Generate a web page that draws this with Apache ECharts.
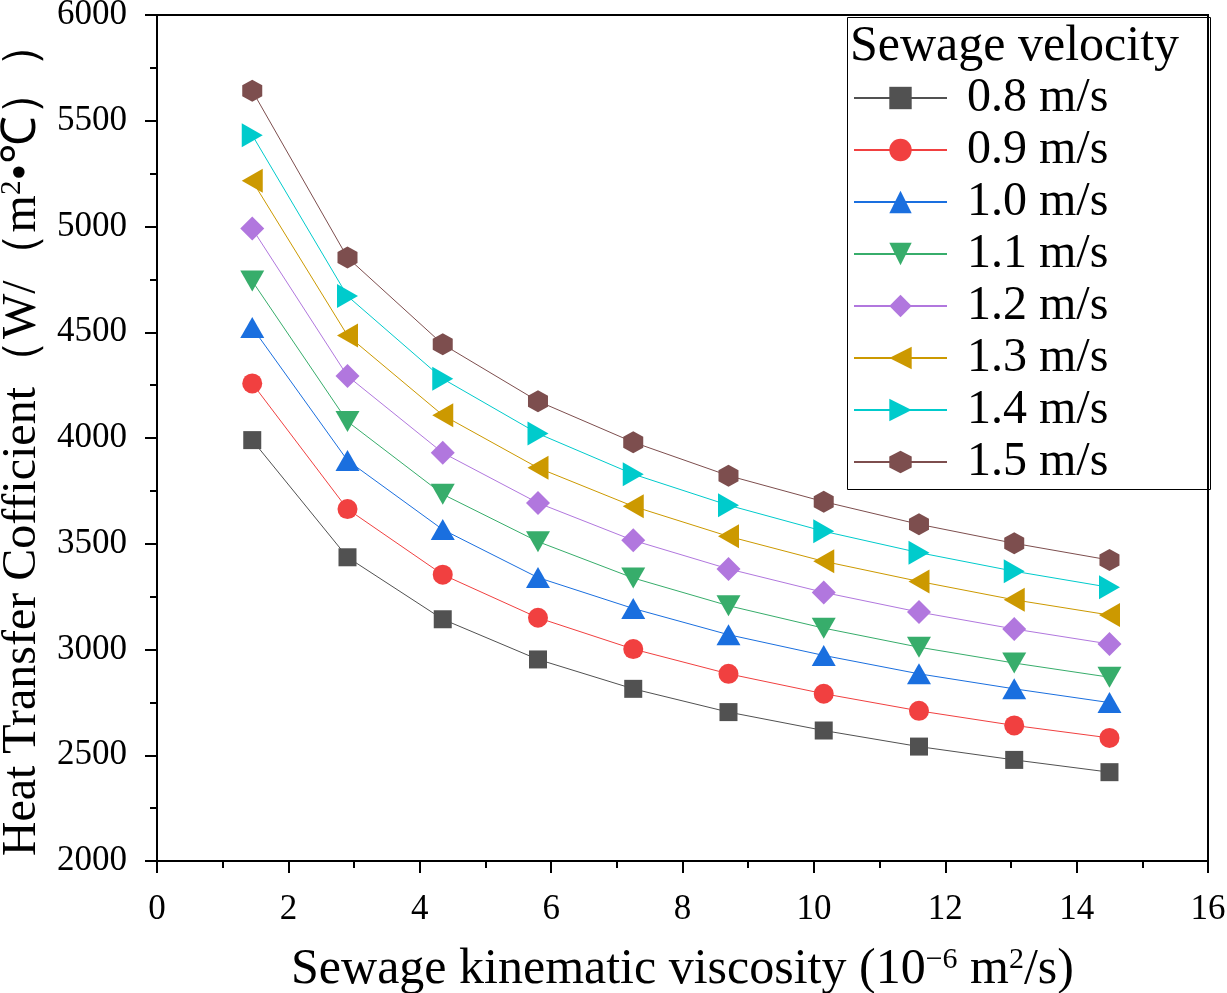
<!DOCTYPE html>
<html>
<head>
<meta charset="utf-8">
<script src="https://cdn.jsdelivr.net/npm/echarts@6/dist/echarts.min.js"></script>
<style>
html,body{margin:0;padding:0;background:#fff;}
#chart{width:1227px;height:993px;}
</style>
</head>
<body>
<div id="chart"></div>
<script>
// ---- data ----
const viscosity = [1.45, 2.9, 4.35, 5.8, 7.25, 8.7, 10.15, 11.6, 13.05, 14.5];
const seriesNames = ['0.8 m/s', '0.9 m/s', '1.0 m/s', '1.1 m/s', '1.2 m/s', '1.3 m/s', '1.4 m/s', '1.5 m/s'];
const v08 = [3990, 3436, 3143, 2953, 2814, 2704, 2617, 2541, 2478, 2420];
const v09 = [4258, 3664, 3354, 3150, 3002, 2885, 2791, 2710, 2641, 2582];
const v10 = [4522, 3894, 3567, 3340, 3194, 3070, 2972, 2885, 2814, 2749];
const v11 = [4742, 4078, 3734, 3510, 3338, 3207, 3101, 3011, 2936, 2869];
const v12 = [4990, 4293, 3930, 3693, 3516, 3381, 3270, 3177, 3097, 3026];
const v13 = [5216, 4485, 4108, 3859, 3677, 3535, 3417, 3322, 3235, 3163];
const v14 = [5432, 4671, 4280, 4021, 3829, 3682, 3559, 3458, 3370, 3294];
const v15 = [5642, 4853, 4443, 4174, 3980, 3822, 3699, 3592, 3502, 3423];
const yTicks = [2000, 2500, 3000, 3500, 4000, 4500, 5000, 5500, 6000];
const xTicks = [0, 2, 4, 6, 8, 10, 12, 14, 16];

const allValues = [v08, v09, v10, v11, v12, v13, v14, v15];
const colors = ['#515151', '#F14040', '#1A6FDF', '#37AD6B', '#B177DE', '#CC9900', '#00CBCC', '#7D4E4E'];
const symbols = [
  'rect',
  'circle',
  'triangle',
  'path://M0,0 L10,0 L5,10 Z',
  'diamond',
  'path://M10,0 L10,10 L0,5 Z',
  'path://M0,0 L0,10 L10,5 Z',
  'path://M50,0 L93.3,25 L93.3,75 L50,100 L6.7,75 L6.7,25 Z'
];
const symbolSizes = [[18,18], 20, [24,21], [24,21], [24,24], [21,24], [21,24], [20,22]];

const FONT = 'Liberation Serif';

const series = allValues.map((vals, i) => ({
  name: seriesNames[i],
  type: 'line',
  data: viscosity.map((x, j) => [x, vals[j]]),
  symbol: symbols[i],
  symbolSize: symbolSizes[i],
  showAllSymbol: true,
  lineStyle: { color: colors[i], width: 1 },
  itemStyle: { color: colors[i] },
  emphasis: { disabled: true },
  animation: false,
  z: 2 + i
}));

const tickRich = { t: { fontFamily: FONT, fontSize: 35, color: '#000' } };

const chart = echarts.init(document.getElementById('chart'), null, { renderer: 'canvas' });
chart.setOption({
  backgroundColor: '#ffffff',
  animation: false,
  textStyle: { fontFamily: FONT },
  grid: {
    left: 157, top: 15, right: 19, bottom: 132,
    containLabel: false,
    outerBoundsMode: 'none',
    show: true, borderColor: '#000', borderWidth: 2, backgroundColor: 'transparent'
  },
  xAxis: {
    type: 'value',
    min: xTicks[0], max: xTicks[xTicks.length - 1], interval: 2,
    name: '{a|Sewage kinematic viscosity (10}{s|−6}{a| m}{s|2}{a|/s)}',
    nameLocation: 'middle',
    nameGap: 84,
    nameTextStyle: {
      rich: {
        a: { fontFamily: FONT, fontSize: 50, color: '#000' },
        s: { fontFamily: FONT, fontSize: 30, color: '#000', verticalAlign: 'top', padding: [0,0,20,0] }
      }
    },
    axisLine: { onZero: false, lineStyle: { color: '#000', width: 2 } },
    axisTick: { show: true, length: 12, lineStyle: { color: '#000', width: 2 } },
    minorTick: { show: true, splitNumber: 2, length: 7, lineStyle: { color: '#000', width: 2 } },
    splitLine: { show: false },
    axisLabel: {
      formatter: function (v) { return '{t|' + v + '}'; },
      rich: tickRich,
      fontFamily: FONT, fontSize: 35, color: '#000', margin: 31
    }
  },
  yAxis: {
    type: 'value',
    min: yTicks[0], max: yTicks[yTicks.length - 1], interval: 500,
    name: '{a|Heat Transfer Cofficient（W/（m}{s|2}{a|•℃））}',
    nameLocation: 'middle',
    nameGap: 104,
    nameRotate: 90,
    nameTextStyle: {
      rich: {
        a: { fontFamily: FONT, fontSize: 48, color: '#000' },
        s: { fontFamily: FONT, fontSize: 29, color: '#000', verticalAlign: 'top', padding: [0,0,19,0] }
      }
    },
    axisLine: { onZero: false, lineStyle: { color: '#000', width: 2 } },
    axisTick: { show: true, length: 12, lineStyle: { color: '#000', width: 2 } },
    minorTick: { show: true, splitNumber: 2, length: 7, lineStyle: { color: '#000', width: 2 } },
    splitLine: { show: false },
    axisLabel: {
      formatter: function (v) { return '{t|' + v + '}'; },
      rich: tickRich,
      fontFamily: FONT, fontSize: 35, color: '#000', margin: 30
    }
  },
  legend: {
    orient: 'vertical',
    left: 845, top: 15,
    padding: [59, 10, 4, 8],
    itemWidth: 93,
    itemHeight: 28,
    itemGap: 4,
    align: 'left',
    data: seriesNames,
    textStyle: { fontFamily: FONT, fontSize: 48, color: '#000', lineHeight: 46, padding: [0,0,0,15] },
    selectedMode: false
  },
  graphic: [
    {
      type: 'rect',
      left: 845, top: 15,
      shape: { width: 363, height: 472 },
      style: { fill: 'none', stroke: '#000', lineWidth: 1 },
      z: 100
    },
    {
      type: 'text',
      left: 850, top: 22,
      style: { text: 'Sewage velocity', font: '50px "Liberation Serif"', fill: '#000' },
      z: 100
    }
  ],
  series: series
});
</script>
</body>
</html>
